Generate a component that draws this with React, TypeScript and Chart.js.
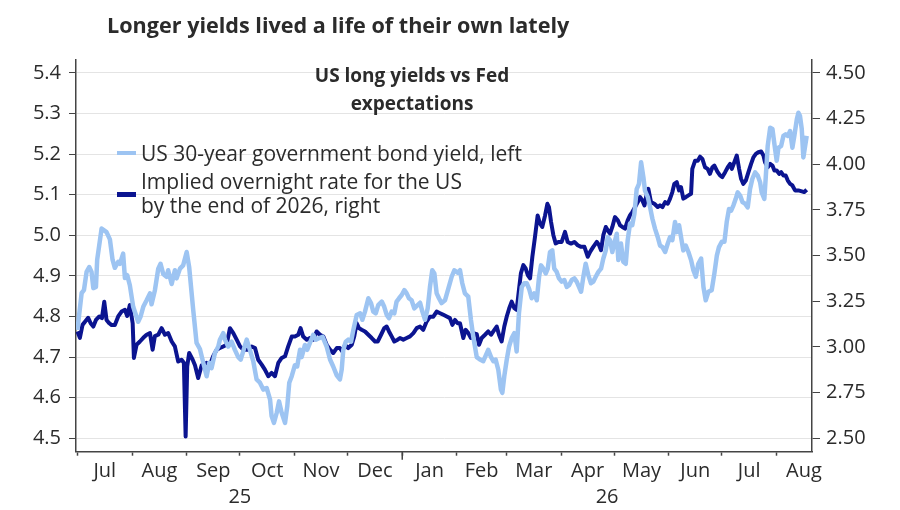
import { useEffect, useRef } from 'react'
import { Chart, registerables } from 'chart.js'

Chart.register(...registerables)

// days counted from 1 Jul 2025
const monthStarts = [0, 31, 62, 92, 123, 153, 184, 215, 243, 274, 304, 335, 365, 396]
const monthLabels = ['Jul', 'Aug', 'Sep', 'Oct', 'Nov', 'Dec', 'Jan', 'Feb', 'Mar', 'Apr', 'May', 'Jun', 'Jul', 'Aug']
const yearLabels = ['25', '26']
const leftTicks = [4.5, 4.6, 4.7, 4.8, 4.9, 5.0, 5.1, 5.2, 5.3, 5.4]
const rightTicks = [2.5, 2.75, 3.0, 3.25, 3.5, 3.75, 4.0, 4.25, 4.5]

// US 30-year government bond yield (left axis)
const yieldDays = [
  0, 2.4, 3.7, 5.2, 6.7, 8.0, 9.0, 10.5, 11.2, 13.7, 16.5, 18.4, 19.9, 21.2, 23.1, 24.1, 25.9, 26.9, 28.2, 29.7,
  31.6, 34.4, 35.8, 37.3, 39.2, 41.1, 42.0, 43.9, 45.8, 47.1, 48.6, 50.5, 51.4, 53.4, 55.2, 56.2, 58.1, 59.9, 61.9, 63.3,
  65.6, 67.5, 69.4, 71.3, 73.2, 74.7, 76.0, 77.9, 79.8, 80.7, 82.6, 83.6, 85.4, 87.4, 89.2, 91.1, 92.5, 93.9, 95.9, 97.7,
  99.6, 101.5, 103.4, 105.3, 107.2, 109.1, 110.0, 111.3, 112.9, 114.2, 115.7, 117.6, 118.9, 120.0, 121.4, 123.2, 124.5, 126.1, 127.0, 128.9,
  130.2, 131.7, 133.6, 135.1, 137.0, 138.9, 141.2, 143.1, 144.9, 146.9, 148.7, 149.7, 150.6, 152.0, 153.4, 155.0, 156.3, 158.2, 160.1, 161.4,
  162.9, 164.8, 166.3, 167.6, 169.0, 170.4, 172.4, 173.8, 175.2, 176.5, 178.0, 179.5, 180.8, 182.2, 183.7, 185.2, 186.5, 187.8, 189.3, 190.8,
  192.7, 194.1, 195.4, 196.9, 198.4, 199.7, 201.0, 202.2, 203.5, 204.8, 206.3, 208.2, 210.1, 212.0, 213.5, 215.4, 216.7, 218.0, 219.5, 221.4,
  222.9, 224.2, 226.2, 228.0, 229.9, 232.7, 234.3, 235.6, 236.9, 238.4, 239.9, 240.7, 241.8, 243.2, 244.5, 246.0, 247.5, 248.8, 250.1, 251.7,
  253.1, 254.5, 255.8, 257.3, 258.8, 260.2, 261.5, 262.6, 263.9, 265.3, 266.4, 267.7, 269.0, 270.1, 271.5, 272.8, 274.3, 275.8, 277.2, 278.5,
  280.0, 281.5, 282.8, 284.1, 285.3, 286.6, 287.9, 289.4, 290.9, 292.2, 293.6, 295.1, 296.6, 297.9, 299.3, 300.4, 301.7, 303.0, 304.1, 305.5,
  306.4, 307.9, 309.2, 310.6, 311.7, 313.0, 314.3, 315.5, 316.8, 318.1, 319.3, 320.6, 321.5, 323.1, 324.4, 325.7, 327.2, 328.7, 330.0, 331.4,
  332.9, 334.4, 335.7, 337.0, 338.5, 339.5, 340.8, 341.9, 343.2, 344.6, 346.1, 347.6, 348.9, 350.3, 351.7, 353.3, 354.6, 355.9, 357.4, 359.3,
  360.8, 362.2, 363.4, 365.0, 366.5, 367.8, 369.1, 370.3, 371.6, 372.9, 374.0, 375.4, 376.7, 378.2, 379.7, 381.0, 382.3, 383.9, 385.4, 386.7,
  387.6, 389.1, 389.9, 391.0, 392.4, 393.7, 394.8, 396.1, 397.1, 398.6, 399.9, 401.2, 402.4, 403.7, 405.0, 406.1, 407.5, 408.4, 409.3, 410.3,
  411.2, 412.2, 413.1,
]
const yieldValues = [
  4.767, 4.858, 4.865, 4.91, 4.922, 4.91, 4.87, 4.873, 4.94, 5.017, 5.008, 4.99, 4.94, 4.92, 4.935, 4.93, 4.955, 4.895, 4.902, 4.877,
  4.824, 4.787, 4.8, 4.824, 4.84, 4.857, 4.83, 4.865, 4.918, 4.93, 4.905, 4.898, 4.914, 4.88, 4.914, 4.894, 4.918, 4.926, 4.959, 4.922,
  4.816, 4.735, 4.72, 4.686, 4.653, 4.686, 4.673, 4.71, 4.726, 4.743, 4.759, 4.743, 4.726, 4.738, 4.718, 4.7, 4.694, 4.714, 4.743, 4.718,
  4.69, 4.645, 4.637, 4.62, 4.624, 4.596, 4.555, 4.538, 4.563, 4.591, 4.563, 4.538, 4.58, 4.637, 4.653, 4.68, 4.677, 4.718, 4.7, 4.73,
  4.718, 4.735, 4.755, 4.743, 4.747, 4.75, 4.726, 4.694, 4.677, 4.655, 4.645, 4.669, 4.718, 4.738, 4.743, 4.738, 4.767, 4.804, 4.808, 4.792,
  4.812, 4.845, 4.833, 4.812, 4.808, 4.828, 4.837, 4.824, 4.804, 4.796, 4.812, 4.808, 4.837, 4.845, 4.853, 4.865, 4.857, 4.845, 4.84, 4.82,
  4.828, 4.834, 4.812, 4.792, 4.82, 4.873, 4.914, 4.906, 4.857, 4.845, 4.833, 4.84, 4.869, 4.898, 4.914, 4.908, 4.914, 4.882, 4.857, 4.849,
  4.792, 4.751, 4.7, 4.694, 4.69, 4.718, 4.7, 4.69, 4.694, 4.669, 4.62, 4.612, 4.653, 4.694, 4.726, 4.747, 4.759, 4.714, 4.808, 4.873,
  4.882, 4.882, 4.869, 4.845, 4.857, 4.84, 4.898, 4.926, 4.918, 4.906, 4.918, 4.959, 4.963, 4.918, 4.91, 4.894, 4.886, 4.89, 4.873, 4.877,
  4.89, 4.894, 4.886, 4.873, 4.861, 4.898, 4.93, 4.902, 4.882, 4.886, 4.898, 4.91, 4.918, 4.943, 4.963, 4.996, 4.988, 4.959, 4.98, 5.004,
  4.939, 4.98, 4.935, 4.93, 4.988, 5.029, 5.025, 5.053, 5.114, 5.127, 5.18, 5.143, 5.11, 5.094, 5.069, 5.041, 5.016, 4.996, 4.975, 4.971,
  4.959, 4.98, 4.996, 4.988, 5.033, 5.008, 5.025, 4.996, 4.963, 4.975, 4.959, 4.939, 4.914, 4.898, 4.93, 4.943, 4.873, 4.84, 4.861, 4.865,
  4.906, 4.95, 4.971, 4.984, 4.984, 5.033, 5.065, 5.061, 5.074, 5.09, 5.106, 5.098, 5.082, 5.078, 5.069, 5.114, 5.139, 5.155, 5.147, 5.131,
  5.106, 5.09, 5.143, 5.22, 5.265, 5.262, 5.225, 5.184, 5.216, 5.22, 5.245, 5.249, 5.245, 5.257, 5.216, 5.245, 5.286, 5.302, 5.294, 5.262,
  5.192, 5.22, 5.245,
]

// Implied overnight rate for the US by the end of 2026 (right axis)
const rateDays = [
  0, 1.4, 2.9, 4.4, 6.1, 7.5, 9.0, 10.5, 12.4, 13.9, 15.2, 16.5, 18.0, 19.4, 21.2, 23.1, 25.0, 26.9, 28.2, 29.7,
  31.3, 32.0, 33.5, 35.4, 37.3, 39.2, 41.1, 42.6, 43.9, 45.8, 47.7, 49.6, 51.4, 53.4, 55.2, 57.1, 59.0, 60.3, 61.3, 62.2,
  63.3, 65.3, 66.6, 68.4, 70.4, 73.2, 75.1, 76.9, 78.9, 80.7, 82.6, 84.5, 86.4, 88.3, 90.2, 92.1, 93.9, 96.8, 98.7, 100.6,
  102.4, 104.4, 106.2, 108.1, 110.0, 111.9, 113.8, 115.7, 117.6, 119.4, 121.4, 123.2, 125.1, 126.4, 127.9, 129.9, 131.7, 133.6, 135.5, 137.4,
  139.3, 141.2, 143.1, 144.9, 146.9, 148.7, 150.0, 151.6, 153.4, 155.4, 156.8, 158.2, 159.5, 161.0, 162.9, 164.8, 166.7, 168.6, 170.1, 172.0,
  173.8, 175.2, 176.5, 178.0, 179.5, 181.4, 182.7, 184.6, 186.5, 188.4, 190.3, 192.2, 194.1, 195.9, 197.8, 199.7, 201.6, 203.5, 205.4, 207.3,
  209.2, 211.0, 212.4, 213.9, 215.4, 216.7, 218.6, 219.9, 221.4, 222.9, 224.2, 226.2, 227.5, 229.0, 230.9, 232.7, 234.3, 235.6, 237.5, 238.8,
  240.3, 241.8, 243.2, 244.6, 246.0, 247.5, 248.8, 250.1, 251.2, 252.6, 253.9, 255.1, 256.4, 257.7, 259.2, 260.7, 262.0, 263.3, 264.9, 266.2,
  267.1, 268.3, 269.6, 270.9, 272.4, 274.3, 276.2, 277.7, 279.6, 281.5, 283.4, 285.3, 287.2, 289.1, 290.4, 292.2, 294.2, 295.5, 296.6, 297.9,
  299.3, 300.4, 301.7, 303.0, 304.5, 306.1, 307.4, 308.7, 310.2, 311.7, 313.0, 314.3, 315.9, 317.4, 318.7, 320.0, 321.2, 322.5, 323.4, 324.9,
  326.8, 328.7, 330.0, 331.4, 332.9, 334.4, 335.7, 337.0, 338.1, 339.5, 340.8, 341.9, 343.2, 344.6, 346.1, 347.6, 348.3, 349.9, 351.4, 352.7,
  354.0, 355.5, 357.0, 358.3, 359.7, 360.8, 362.5, 364.0, 365.3, 366.9, 368.4, 369.7, 370.7, 372.1, 373.5, 374.8, 375.9, 377.2, 378.6, 380.1,
  381.6, 382.9, 384.3, 385.7, 387.3, 388.6, 389.5, 391.0, 392.4, 393.7, 394.8, 396.1, 397.5, 398.6, 399.9, 401.2, 402.4, 403.7, 405.0, 406.5,
  408.4, 410.3, 411.7, 413.1,
]
const rateValues = [
  3.085, 3.05, 3.121, 3.139, 3.16, 3.13, 3.112, 3.148, 3.167, 3.158, 3.248, 3.148, 3.13, 3.12, 3.12, 3.167, 3.194, 3.203, 3.17, 3.23,
  3.13, 2.94, 3.012, 3.03, 3.05, 3.067, 3.076, 2.985, 3.06, 3.067, 3.103, 3.067, 3.076, 3.03, 3.003, 2.92, 2.93, 2.914, 2.51, 2.894,
  2.967, 2.93, 2.9, 2.83, 2.9, 2.913, 2.903, 2.95, 2.985, 2.994, 3.003, 3.012, 3.103, 3.076, 3.04, 3.003, 2.985, 2.985, 3.003, 2.994,
  2.93, 2.903, 2.876, 2.84, 2.858, 2.84, 2.913, 2.94, 2.949, 3.003, 3.057, 3.057, 3.067, 3.103, 3.057, 3.04, 3.049, 3.04, 3.085, 3.067,
  3.057, 3.012, 2.985, 2.967, 2.994, 2.994, 2.976, 3.012, 2.994, 3.012, 3.058, 3.13, 3.103, 3.094, 3.085, 3.067, 3.049, 3.03, 3.03, 3.067,
  3.103, 3.112, 3.085, 3.058, 3.03, 3.04, 3.049, 3.04, 3.049, 3.058, 3.076, 3.103, 3.112, 3.094, 3.139, 3.166, 3.166, 3.194, 3.185, 3.176,
  3.167, 3.158, 3.121, 3.148, 3.13, 3.13, 3.049, 3.094, 3.076, 3.049, 3.076, 3.07, 3.012, 3.049, 3.067, 3.085, 3.067, 3.085, 3.112, 3.067,
  3.03, 3.112, 3.167, 3.212, 3.248, 3.212, 3.203, 3.312, 3.403, 3.448, 3.43, 3.394, 3.376, 3.494, 3.603, 3.72, 3.676, 3.657, 3.72, 3.784,
  3.766, 3.684, 3.612, 3.567, 3.575, 3.575, 3.63, 3.575, 3.566, 3.575, 3.557, 3.548, 3.548, 3.494, 3.521, 3.548, 3.575, 3.557, 3.53, 3.612,
  3.657, 3.639, 3.621, 3.657, 3.711, 3.693, 3.666, 3.657, 3.648, 3.693, 3.72, 3.739, 3.766, 3.793, 3.82, 3.802, 3.775, 3.839, 3.866, 3.793,
  3.784, 3.766, 3.775, 3.766, 3.793, 3.784, 3.812, 3.848, 3.893, 3.902, 3.857, 3.875, 3.812, 3.82, 3.83, 3.839, 3.975, 4.02, 4.02, 4.042,
  4.03, 3.984, 3.975, 3.948, 3.984, 3.993, 3.96, 3.939, 3.93, 3.957, 3.984, 4.002, 3.975, 4.011, 4.048, 3.975, 3.921, 3.893, 3.911, 3.957,
  4.002, 4.038, 4.057, 4.066, 4.07, 4.048, 4.011, 3.984, 4.002, 3.993, 3.966, 3.966, 3.948, 3.957, 3.939, 3.939, 3.911, 3.893, 3.884, 3.857,
  3.857, 3.852, 3.848, 3.861,
]

const FONT = "'Open Sans', sans-serif"
const TEXT = '#2b2b2b'
const AXIS = '#444444'
const LIGHT = '#9dc4f2'
const DARK = '#0b1490'

const X_MIN = -0.8
const X_MAX = 416.1

// longer tick at the turn of the year
const yearTickPlugin = {
  id: 'yearTick',
  afterDraw(chart: any) {
    const xs = chart.scales.x
    const ctx = chart.ctx
    const px = xs.getPixelForValue(monthStarts[monthLabels.indexOf('Jan')])
    ctx.save()
    ctx.strokeStyle = AXIS
    ctx.lineWidth = 1.5
    ctx.beginPath()
    ctx.moveTo(px, xs.top)
    ctx.lineTo(px, xs.top + 8)
    ctx.stroke()
    ctx.restore()
  },
}

export default function App() {
  const canvasRef = useRef<HTMLCanvasElement>(null)
  const chartRef = useRef<Chart | null>(null)

  useEffect(() => {
    if (!canvasRef.current) return
    if (chartRef.current) chartRef.current.destroy()

    const monthMids = monthStarts.map((d, i) => (d + (monthStarts[i + 1] ?? monthStarts[i] + 31)) / 2)
    const janDay = monthStarts[monthLabels.indexOf('Jan')]
    const yearMids = [(0 + janDay) / 2, (janDay + X_MAX) / 2]
    const tickFont = { family: FONT, size: 20 }

    chartRef.current = new Chart(canvasRef.current, {
      type: 'line',
      data: {
        datasets: [
          {
            label: 'US 30-year government bond yield, left',
            data: yieldDays.map((d, i) => ({ x: d, y: yieldValues[i] })),
            borderColor: LIGHT,
            borderWidth: 4.5,
            pointRadius: 0,
            tension: 0,
            borderJoinStyle: 'round',
            xAxisID: 'x',
            yAxisID: 'y',
          },
          {
            label: 'Implied overnight rate for the US by the end of 2026, right',
            data: rateDays.map((d, i) => ({ x: d, y: rateValues[i] })),
            borderColor: DARK,
            borderWidth: 4,
            pointRadius: 0,
            tension: 0,
            borderJoinStyle: 'round',
            xAxisID: 'x',
            yAxisID: 'y1',
          },
        ],
      },
      options: {
        animation: false,
        responsive: false,
        layout: { padding: { top: 60, left: 0, right: 0, bottom: 0 } },
        plugins: {
          legend: { display: false },
          title: { display: false },
          tooltip: { enabled: false },
        },
        scales: {
          x: {
            type: 'linear',
            position: 'bottom',
            min: X_MIN,
            max: X_MAX,
            afterBuildTicks: (s: any) => { s.ticks = monthStarts.map(v => ({ value: v })) },
            afterFit: (s: any) => { s.height = 4 },
            ticks: { display: false },
            grid: { drawOnChartArea: false, drawTicks: true, tickLength: 4, tickColor: AXIS, tickWidth: 1.5 },
            border: { display: true, color: AXIS, width: 1.5 },
          },
          xm: {
            type: 'linear',
            position: 'bottom',
            min: X_MIN,
            max: X_MAX,
            afterBuildTicks: (s: any) => { s.ticks = monthMids.map(v => ({ value: v })) },
            afterFit: (s: any) => { s.height = 30 },
            ticks: {
              autoSkip: false,
              maxRotation: 0,
              padding: 4,
              font: tickFont,
              color: TEXT,
              callback: (_v: any, i: number) => monthLabels[i],
            },
            grid: { display: false, drawTicks: false },
            border: { display: false },
          },
          xy: {
            type: 'linear',
            position: 'bottom',
            min: X_MIN,
            max: X_MAX,
            afterBuildTicks: (s: any) => { s.ticks = yearMids.map(v => ({ value: v })) },
            afterFit: (s: any) => { s.height = 24.3 },
            ticks: {
              autoSkip: false,
              maxRotation: 0,
              padding: 0,
              font: tickFont,
              color: TEXT,
              callback: (_v: any, i: number) => yearLabels[i],
            },
            grid: { display: false, drawTicks: false },
            border: { display: false },
          },
          y: {
            type: 'linear',
            position: 'left',
            min: 4.467,
            max: 5.432,
            afterBuildTicks: (s: any) => { s.ticks = leftTicks.map(v => ({ value: v })) },
            afterFit: (s: any) => { s.width = 76 },
            ticks: {
              padding: 8,
              font: tickFont,
              color: TEXT,
              callback: (v: any) => Number(v).toFixed(1),
            },
            grid: { color: '#e4e4e4', lineWidth: 1, tickLength: 7, tickColor: AXIS },
            border: { display: true, color: AXIS, width: 1.5 },
          },
          y1: {
            type: 'linear',
            position: 'right',
            min: 2.4267,
            max: 4.571,
            afterBuildTicks: (s: any) => { s.ticks = rightTicks.map(v => ({ value: v })) },
            afterFit: (s: any) => { s.width = 88 },
            ticks: {
              padding: 6,
              font: tickFont,
              color: TEXT,
              callback: (v: any) => Number(v).toFixed(2),
            },
            grid: { drawOnChartArea: false, tickLength: 8, tickColor: AXIS },
            border: { display: true, color: AXIS, width: 1.5 },
          },
        },
      },
      plugins: [yearTickPlugin],
    } as any)

    return () => {
      if (chartRef.current) {
        chartRef.current.destroy()
        chartRef.current = null
      }
    }
  }, [])

  const swatch = (top: number, color: string, h: number) => (
    <div style={{ position: 'absolute', left: 117, top, width: 19, height: h, background: color }} />
  )

  return (
    <div style={{ position: 'absolute', left: 0, top: 0, width: 900, height: 510, background: '#fff', fontFamily: FONT, color: TEXT }}>
      <canvas ref={canvasRef} width={900} height={510} style={{ position: 'absolute', left: 0, top: 0 }} />
      <div style={{ position: 'absolute', left: 107, top: 9, fontSize: 21.6, fontWeight: 700, lineHeight: '32px', whiteSpace: 'nowrap' }}>
        Longer yields lived a life of their own lately
      </div>
      <div style={{ position: 'absolute', left: 0, top: 61, width: 824, textAlign: 'center', fontSize: 19, fontWeight: 700, lineHeight: '28px' }}>
        US long yields vs Fed
        <br />
        expectations
      </div>
      {swatch(151, LIGHT, 4)}
      {swatch(192, DARK, 5)}
      <div style={{ position: 'absolute', left: 141, top: 140, fontSize: 21, lineHeight: '26px', whiteSpace: 'nowrap' }}>
        US 30-year government bond yield, left
      </div>
      <div style={{ position: 'absolute', left: 141, top: 169, fontSize: 21, lineHeight: '24px', whiteSpace: 'nowrap' }}>
        Implied overnight rate for the US
        <br />
        by the end of 2026, right
      </div>
    </div>
  )
}
